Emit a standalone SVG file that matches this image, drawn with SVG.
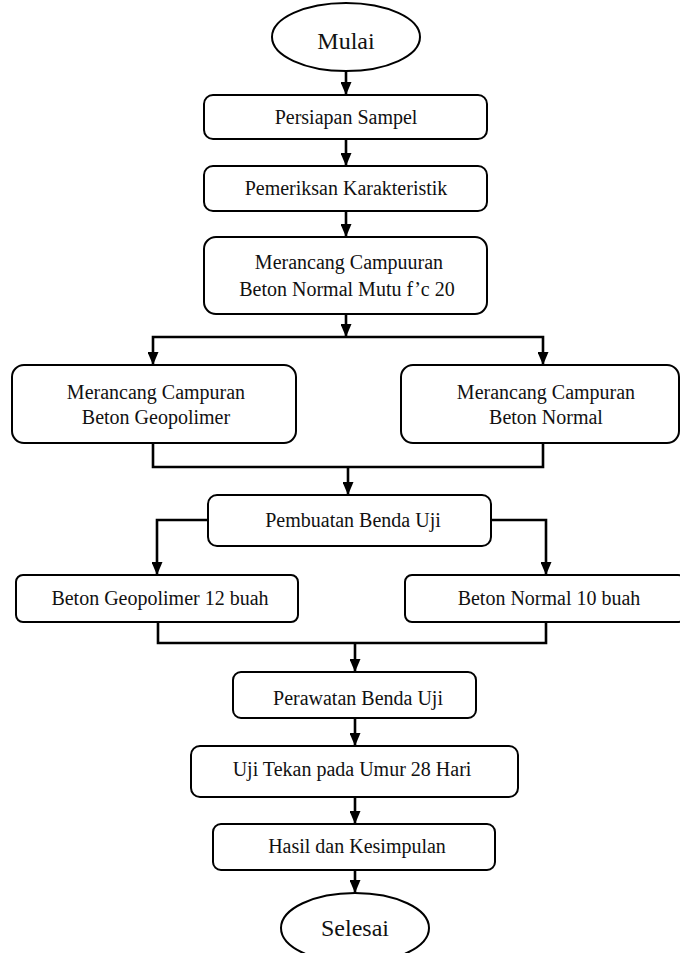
<svg xmlns="http://www.w3.org/2000/svg" width="680" height="953" viewBox="0 0 680 953">
<defs>
<style>
.n{fill:#fff;stroke:#000;stroke-width:2}
.t{font-family:"Liberation Serif","Times New Roman",serif;font-size:20px;fill:#111;text-anchor:middle}
.tb{font-family:"Liberation Serif","Times New Roman",serif;font-size:24px;fill:#111;text-anchor:middle}
.c{fill:none;stroke:#000;stroke-width:2.6}
</style>
<marker id="ah" viewBox="0 0 13 11" refX="13" refY="5.5" markerWidth="13" markerHeight="11" markerUnits="userSpaceOnUse" orient="auto">
<path d="M0,0 L13,5.5 L0,11 z" fill="#000"/>
</marker>
</defs>
<rect width="680" height="953" fill="#fff"/>
<g id="connectors">
<path class="c" d="M346,71 V95" marker-end="url(#ah)"/>
<path class="c" d="M346,139 V166" marker-end="url(#ah)"/>
<path class="c" d="M346,211 V237" marker-end="url(#ah)"/>
<path class="c" d="M346,314 V337" marker-end="url(#ah)"/>
<path class="c" d="M346,337 H153 V365" marker-end="url(#ah)"/>
<path class="c" d="M346,337 H543 V365" marker-end="url(#ah)"/>
<path class="c" d="M153,443 V467 H543 V443"/>
<path class="c" d="M348,467 V495" marker-end="url(#ah)"/>
<path class="c" d="M208,520 H157 V575" marker-end="url(#ah)"/>
<path class="c" d="M491,520 H546 V575" marker-end="url(#ah)"/>
<path class="c" d="M158,622 V643 H546 V622"/>
<path class="c" d="M355,643 V672" marker-end="url(#ah)"/>
<path class="c" d="M355,718 V746" marker-end="url(#ah)"/>
<path class="c" d="M355,797 V824" marker-end="url(#ah)"/>
<path class="c" d="M355,870 V893" marker-end="url(#ah)"/>
</g>
<g id="mulai">
<ellipse class="n" cx="346" cy="37" rx="74" ry="34"/>
<text class="tb" x="346" y="49">Mulai</text>
</g>
<g id="persiapan">
<rect class="n" x="204" y="95" width="283" height="44" rx="9"/>
<text class="t" x="346" y="124">Persiapan Sampel</text>
</g>
<g id="pemeriksan">
<rect class="n" x="204" y="166" width="283" height="45" rx="9"/>
<text class="t" x="346" y="195">Pemeriksan Karakteristik</text>
</g>
<g id="merancang">
<rect class="n" x="204" y="237" width="283" height="77" rx="12"/>
<text class="t" x="349" y="269">Merancang Campuuran</text>
<text class="t" x="347" y="296">Beton Normal Mutu f’c 20</text>
</g>
<g id="geo-mix">
<rect class="n" x="12" y="365" width="284" height="78" rx="12"/>
<text class="t" x="156" y="399">Merancang Campuran</text>
<text class="t" x="156" y="424">Beton Geopolimer</text>
</g>
<g id="normal-mix">
<rect class="n" x="401" y="365" width="278" height="78" rx="12"/>
<text class="t" x="546" y="399">Merancang Campuran</text>
<text class="t" x="546" y="424">Beton Normal</text>
</g>
<g id="pembuatan">
<rect class="n" x="208" y="495" width="283" height="51" rx="9"/>
<text class="t" x="353" y="527">Pembuatan Benda Uji</text>
</g>
<g id="geo12">
<rect class="n" x="16" y="575" width="282" height="47" rx="7"/>
<text class="t" x="160" y="605">Beton Geopolimer 12 buah</text>
</g>
<g id="normal10">
<rect class="n" x="405" y="575" width="280" height="47" rx="7"/>
<text class="t" x="549" y="605">Beton Normal 10 buah</text>
</g>
<g id="perawatan">
<rect class="n" x="233" y="672" width="243" height="46" rx="8"/>
<text class="t" x="358" y="705">Perawatan Benda Uji</text>
</g>
<g id="uji">
<rect class="n" x="191" y="746" width="327" height="51" rx="9"/>
<text class="t" x="352" y="776">Uji Tekan pada Umur 28 Hari</text>
</g>
<g id="hasil">
<rect class="n" x="213" y="824" width="282" height="46" rx="8"/>
<text class="t" x="357" y="853">Hasil dan Kesimpulan</text>
</g>
<g id="selesai">
<ellipse class="n" cx="355" cy="928" rx="74" ry="35"/>
<text class="tb" x="355" y="936">Selesai</text>
</g>
</svg>
